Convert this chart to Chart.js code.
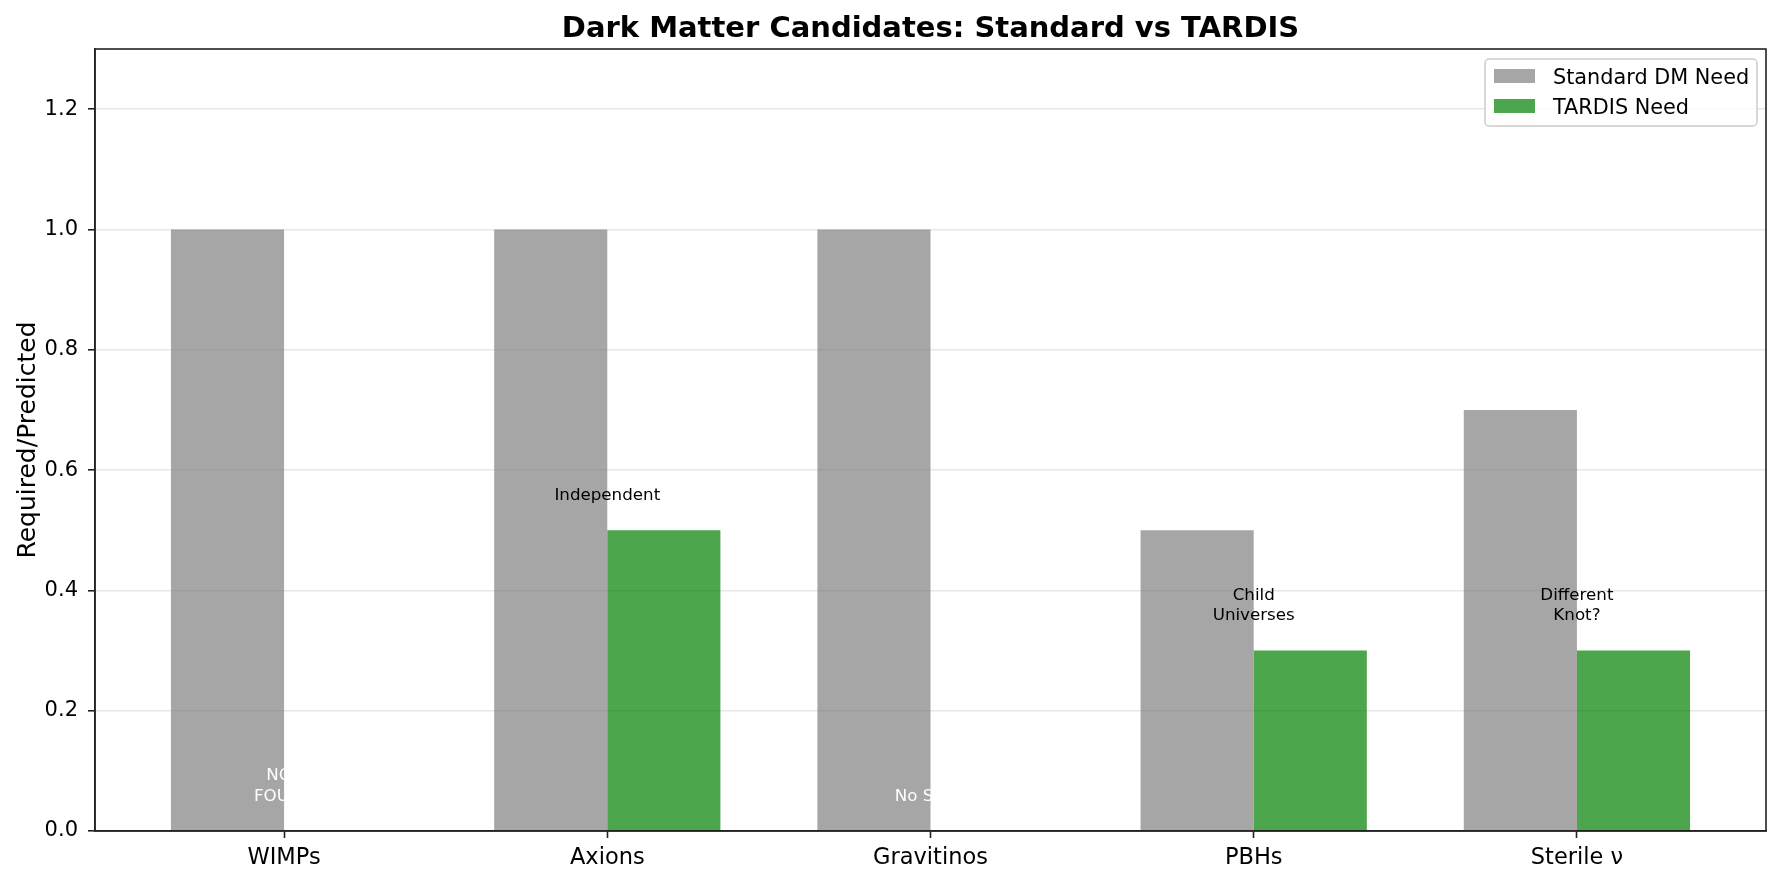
<!DOCTYPE html>
<html>
<head>
<meta charset="utf-8">
<script src="https://cdn.jsdelivr.net/npm/chart.js@4.4.1/dist/chart.umd.min.js"></script>
<style>
  html, body { margin: 0; padding: 0; background: #fff; }
  #wrap { width: 1782px; height: 884px; position: relative; }
</style>
</head>
<body>
<div id="wrap"><canvas id="dmChart"></canvas></div>
<script>
const chartTitle = 'Dark Matter Candidates: Standard vs TARDIS'
const candidates = ['WIMPs', 'Axions', 'Gravitinos', 'PBHs', 'Sterile ν']
const standardNeed = [1.0, 1.0, 1.0, 0.5, 0.7]
const tardisNeed = [0, 0.5, 0, 0.3, 0.3]
const noteText = ['NOT\nFOUND', 'Independent', 'No SUSY', 'Child\nUniverses', 'Different\nKnot?']
const noteY = [0.05, 0.55, 0.05, 0.35, 0.35]
const noteColor = ['#ffffff', '#000000', '#ffffff', '#000000', '#000000']
const yTicks = [0, 0.2, 0.4, 0.6, 0.8, 1.0, 1.2]

const FONT = '"DejaVu Sans", "Liberation Sans", sans-serif'
Chart.defaults.font.family = FONT
Chart.defaults.color = '#000'

// title over the axes, annotations, axes frame and a matplotlib-like legend
const extras = {
  id: 'extras',
  afterDatasetsDraw(chart) {
    const { ctx, chartArea: a, scales: { x, y } } = chart
    ctx.save()

    ctx.fillStyle = '#000'
    ctx.font = 'bold 29px ' + FONT
    ctx.textAlign = 'center'
    ctx.textBaseline = 'alphabetic'
    ctx.fillText(chartTitle, (a.left + a.right) / 2, 37)

    ctx.font = '16.7px ' + FONT
    noteText.forEach((t, i) => {
      const lines = t.split('\n')
      const px = x.getPixelForValue(i)
      const py = y.getPixelForValue(noteY[i])
      ctx.fillStyle = noteColor[i]
      lines.forEach((ln, k) => ctx.fillText(ln, px, py - (lines.length - 1 - k) * 20.5))
    })

    ctx.strokeStyle = '#222'
    ctx.lineWidth = 1.6
    ctx.strokeRect(a.left, a.top, a.right - a.left, a.bottom - a.top)

    // legend box
    const lx = a.right - 281, ly = a.top + 10, lw = 272, lh = 67
    ctx.beginPath()
    ctx.roundRect(lx, ly, lw, lh, 4)
    ctx.fillStyle = 'rgba(255,255,255,0.8)'
    ctx.fill()
    ctx.strokeStyle = '#cccccc'
    ctx.lineWidth = 1.5
    ctx.stroke()
    ctx.font = '20.8px ' + FONT
    ctx.textAlign = 'left'
    chart.data.datasets.forEach((ds, i) => {
      const rowY = ly + 10 + i * 30
      ctx.fillStyle = ds.backgroundColor
      ctx.fillRect(lx + 9, rowY, 41, 14)
      ctx.fillStyle = '#000'
      ctx.fillText(ds.label, lx + 68, rowY + 15)
    })
    ctx.restore()
  }
}

new Chart(document.getElementById('dmChart'), {
  type: 'bar',
  data: {
    datasets: [
      {
        label: 'Standard DM Need',
        data: standardNeed.map((v, i) => ({ x: i, y: v })),
        backgroundColor: 'rgba(128,128,128,0.7)',
        borderWidth: 0
      },
      {
        label: 'TARDIS Need',
        data: tardisNeed.map((v, i) => ({ x: i, y: v })),
        backgroundColor: 'rgba(0,128,0,0.7)',
        borderWidth: 0
      }
    ]
  },
  options: {
    responsive: true, maintainAspectRatio: false,
    animation: false,
    categoryPercentage: 0.7, barPercentage: 1.0,
    layout: { padding: { top: 49, left: 0, right: 16, bottom: 0 } },
    plugins: {
      legend: { display: false },
      tooltip: { enabled: false },
      title: { display: false }
    },
    scales: {
      x: {
        type: 'linear',
        min: -0.585, max: 4.585,
        offset: false,
        afterBuildTicks: s => { s.ticks = candidates.map((c, i) => ({ value: i })) },
        afterFit: s => { s.height = 53 },
        ticks: {
          autoSkip: false, maxRotation: 0,
          font: { size: 22.5 }, color: '#000', padding: 7,
          callback: v => candidates[v]
        },
        grid: {
          offset: false, drawOnChartArea: false, drawTicks: true,
          tickLength: 7, tickWidth: 1.6, tickColor: '#222'
        },
        border: { display: true, color: '#222', width: 1.6 }
      },
      y: {
        min: 0, max: 1.3,
        afterBuildTicks: s => { s.ticks = yTicks.map(v => ({ value: v })) },
        afterFit: s => { s.width = 95 },
        ticks: {
          font: { size: 21 }, color: '#000', padding: 10,
          callback: v => v.toFixed(1)
        },
        grid: {
          color: 'rgba(176,176,176,0.3)', lineWidth: 1.6,
          tickLength: 7, tickWidth: 1.6, tickColor: '#222'
        },
        border: { display: true, color: '#222', width: 1.6 },
        title: {
          display: true, text: 'Required/Predicted',
          font: { size: 25 }, color: '#000',
          padding: { top: 13, bottom: 0 }
        }
      }
    }
  },
  plugins: [extras]
})
</script>
</body>
</html>
